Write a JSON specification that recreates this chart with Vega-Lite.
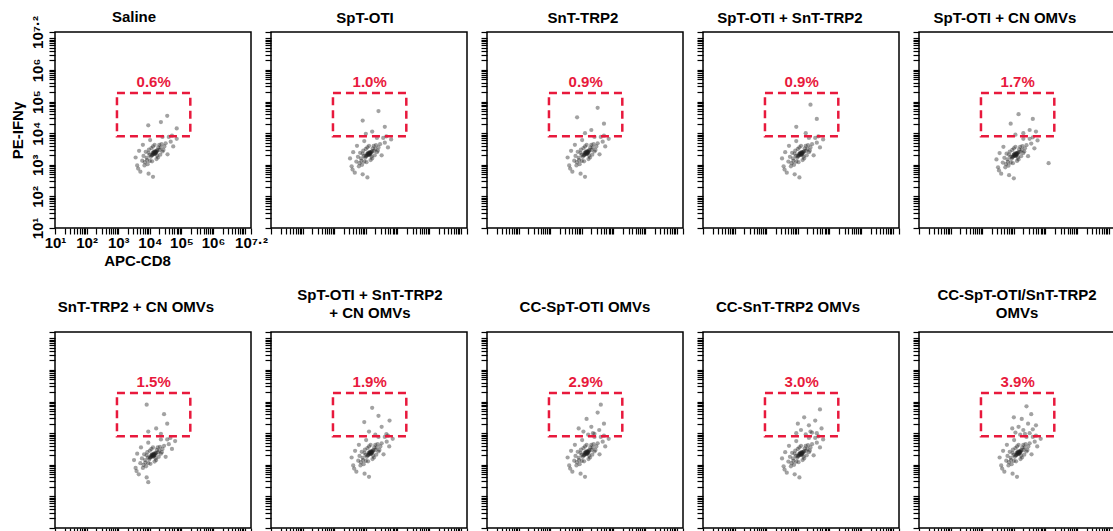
{
"$schema":"https://vega.github.io/schema/vega-lite/v6.json",
"padding":{"left":9,"top":8,"right":0,"bottom":0},
"background":"white",
"datasets":{
"gates":[
{"p":1,"x":2.96,"x2":5.28,"y":3.9,"y2":5.27,"xc":4.12,"pct":"0.6%"},
{"p":2,"x":2.96,"x2":5.28,"y":3.9,"y2":5.27,"xc":4.12,"pct":"1.0%"},
{"p":3,"x":2.96,"x2":5.28,"y":3.9,"y2":5.27,"xc":4.12,"pct":"0.9%"},
{"p":4,"x":2.96,"x2":5.28,"y":3.9,"y2":5.27,"xc":4.12,"pct":"0.9%"},
{"p":5,"x":2.96,"x2":5.28,"y":3.9,"y2":5.27,"xc":4.12,"pct":"1.7%"},
{"p":6,"x":2.96,"x2":5.28,"y":3.9,"y2":5.27,"xc":4.12,"pct":"1.5%"},
{"p":7,"x":2.96,"x2":5.28,"y":3.9,"y2":5.27,"xc":4.12,"pct":"1.9%"},
{"p":8,"x":2.96,"x2":5.28,"y":3.9,"y2":5.27,"xc":4.12,"pct":"2.9%"},
{"p":9,"x":2.96,"x2":5.28,"y":3.9,"y2":5.27,"xc":4.12,"pct":"3.0%"},
{"p":10,"x":2.96,"x2":5.28,"y":3.9,"y2":5.27,"xc":4.12,"pct":"3.9%"}
],
"cells":[
{"p":1,"x":4.15,"y":3.38},{"p":1,"x":4.18,"y":3.4},{"p":1,"x":4.12,"y":3.36},{"p":1,"x":4.2,"y":3.42},{"p":1,"x":4.1,"y":3.33},{"p":1,"x":4.16,"y":3.35},{"p":1,"x":4.13,"y":3.41},{"p":1,"x":4.22,"y":3.45},{"p":1,"x":4.08,"y":3.31},{"p":1,"x":4.17,"y":3.39},{"p":1,"x":4.19,"y":3.37},{"p":1,"x":4.11,"y":3.39},{"p":1,"x":4.24,"y":3.46},{"p":1,"x":4.06,"y":3.3},{"p":1,"x":4.14,"y":3.34},{"p":1,"x":4.21,"y":3.4},{"p":1,"x":4.09,"y":3.37},{"p":1,"x":4.16,"y":3.43},
{"p":1,"x":3.9,"y":3.22},{"p":1,"x":3.96,"y":3.38},{"p":1,"x":4.34,"y":3.54},{"p":1,"x":4.4,"y":3.42},{"p":1,"x":4.0,"y":3.12},{"p":1,"x":4.3,"y":3.63},{"p":1,"x":3.84,"y":3.08},{"p":1,"x":4.46,"y":3.58},{"p":1,"x":3.8,"y":3.28},{"p":1,"x":4.05,"y":3.53},{"p":1,"x":4.26,"y":3.23},{"p":1,"x":3.97,"y":3.48},{"p":1,"x":4.33,"y":3.32},{"p":1,"x":3.93,"y":3.02},{"p":1,"x":4.5,"y":3.68},{"p":1,"x":3.76,"y":3.13},{"p":1,"x":4.1,"y":3.58},{"p":1,"x":4.21,"y":3.18},{"p":1,"x":3.87,"y":3.41},{"p":1,"x":4.43,"y":3.47},{"p":1,"x":4.03,"y":3.25},{"p":1,"x":4.27,"y":3.55},{"p":1,"x":3.83,"y":2.98},{"p":1,"x":4.37,"y":3.65},{"p":1,"x":4.07,"y":3.11},{"p":1,"x":3.99,"y":3.31},{"p":1,"x":4.31,"y":3.47},{"p":1,"x":4.15,"y":3.63},{"p":1,"x":3.91,"y":3.15},{"p":1,"x":4.23,"y":3.29},
{"p":1,"x":3.6,"y":2.98},{"p":1,"x":3.66,"y":3.44},{"p":1,"x":4.66,"y":3.73},{"p":1,"x":4.74,"y":3.58},{"p":1,"x":3.7,"y":2.78},{"p":1,"x":4.6,"y":3.88},{"p":1,"x":3.55,"y":3.23},{"p":1,"x":4.85,"y":3.82},{"p":1,"x":3.96,"y":2.72},{"p":1,"x":4.4,"y":3.88},{"p":1,"x":3.78,"y":3.63},{"p":1,"x":4.56,"y":3.33},{"p":1,"x":3.63,"y":2.88},{"p":1,"x":4.1,"y":2.62},{"p":1,"x":4.7,"y":3.92},{"p":1,"x":4.01,"y":3.78},
{"p":1,"x":4.35,"y":4.35},{"p":1,"x":3.95,"y":4.25},{"p":1,"x":4.55,"y":4.55},{"p":1,"x":4.85,"y":4.15},

{"p":2,"x":4.1,"y":3.35},{"p":2,"x":4.13,"y":3.37},{"p":2,"x":4.07,"y":3.33},{"p":2,"x":4.15,"y":3.4},{"p":2,"x":4.05,"y":3.3},{"p":2,"x":4.12,"y":3.32},{"p":2,"x":4.08,"y":3.38},{"p":2,"x":4.18,"y":3.41},{"p":2,"x":4.02,"y":3.29},{"p":2,"x":4.11,"y":3.36},{"p":2,"x":4.14,"y":3.34},{"p":2,"x":4.06,"y":3.36},{"p":2,"x":4.2,"y":3.43},{"p":2,"x":4.0,"y":3.27},{"p":2,"x":4.09,"y":3.31},{"p":2,"x":4.16,"y":3.37},{"p":2,"x":4.04,"y":3.34},{"p":2,"x":4.12,"y":3.4},
{"p":2,"x":3.85,"y":3.2},{"p":2,"x":3.9,"y":3.35},{"p":2,"x":4.3,"y":3.5},{"p":2,"x":4.35,"y":3.4},{"p":2,"x":3.95,"y":3.1},{"p":2,"x":4.25,"y":3.6},{"p":2,"x":3.8,"y":3.05},{"p":2,"x":4.4,"y":3.55},{"p":2,"x":3.75,"y":3.25},{"p":2,"x":4.0,"y":3.5},{"p":2,"x":4.2,"y":3.2},{"p":2,"x":3.92,"y":3.45},{"p":2,"x":4.28,"y":3.3},{"p":2,"x":3.88,"y":3.0},{"p":2,"x":4.45,"y":3.65},{"p":2,"x":3.7,"y":3.1},{"p":2,"x":4.05,"y":3.55},{"p":2,"x":4.15,"y":3.15},{"p":2,"x":3.82,"y":3.38},{"p":2,"x":4.38,"y":3.45},{"p":2,"x":3.98,"y":3.22},{"p":2,"x":4.22,"y":3.52},{"p":2,"x":3.78,"y":2.95},{"p":2,"x":4.32,"y":3.62},{"p":2,"x":4.02,"y":3.08},{"p":2,"x":3.94,"y":3.28},{"p":2,"x":4.26,"y":3.44},{"p":2,"x":4.1,"y":3.6},{"p":2,"x":3.86,"y":3.12},{"p":2,"x":4.18,"y":3.26},
{"p":2,"x":3.55,"y":2.95},{"p":2,"x":3.6,"y":3.4},{"p":2,"x":4.6,"y":3.7},{"p":2,"x":4.7,"y":3.55},{"p":2,"x":3.65,"y":2.75},{"p":2,"x":4.55,"y":3.85},{"p":2,"x":3.5,"y":3.2},{"p":2,"x":4.8,"y":3.8},{"p":2,"x":3.9,"y":2.7},{"p":2,"x":4.35,"y":3.85},{"p":2,"x":3.72,"y":3.6},{"p":2,"x":4.5,"y":3.3},{"p":2,"x":3.58,"y":2.85},{"p":2,"x":4.05,"y":2.6},{"p":2,"x":4.65,"y":3.9},{"p":2,"x":3.95,"y":3.75},
{"p":2,"x":4.2,"y":4.05},{"p":2,"x":3.9,"y":4.4},{"p":2,"x":4.6,"y":4.2},{"p":2,"x":4.4,"y":4.7},{"p":2,"x":4.0,"y":3.98},

{"p":3,"x":4.15,"y":3.38},{"p":3,"x":4.18,"y":3.4},{"p":3,"x":4.12,"y":3.36},{"p":3,"x":4.2,"y":3.42},{"p":3,"x":4.1,"y":3.33},{"p":3,"x":4.16,"y":3.35},{"p":3,"x":4.13,"y":3.41},{"p":3,"x":4.22,"y":3.45},{"p":3,"x":4.08,"y":3.31},{"p":3,"x":4.17,"y":3.39},{"p":3,"x":4.19,"y":3.37},{"p":3,"x":4.11,"y":3.39},{"p":3,"x":4.24,"y":3.46},{"p":3,"x":4.06,"y":3.3},{"p":3,"x":4.14,"y":3.34},{"p":3,"x":4.21,"y":3.4},{"p":3,"x":4.09,"y":3.37},{"p":3,"x":4.16,"y":3.43},
{"p":3,"x":3.9,"y":3.22},{"p":3,"x":3.96,"y":3.38},{"p":3,"x":4.34,"y":3.54},{"p":3,"x":4.4,"y":3.42},{"p":3,"x":4.0,"y":3.12},{"p":3,"x":4.3,"y":3.63},{"p":3,"x":3.84,"y":3.08},{"p":3,"x":4.46,"y":3.58},{"p":3,"x":3.8,"y":3.28},{"p":3,"x":4.05,"y":3.53},{"p":3,"x":4.26,"y":3.23},{"p":3,"x":3.97,"y":3.48},{"p":3,"x":4.33,"y":3.32},{"p":3,"x":3.93,"y":3.02},{"p":3,"x":4.5,"y":3.68},{"p":3,"x":3.76,"y":3.13},{"p":3,"x":4.1,"y":3.58},{"p":3,"x":4.21,"y":3.18},{"p":3,"x":3.87,"y":3.41},{"p":3,"x":4.43,"y":3.47},{"p":3,"x":4.03,"y":3.25},{"p":3,"x":4.27,"y":3.55},{"p":3,"x":3.83,"y":2.98},{"p":3,"x":4.37,"y":3.65},{"p":3,"x":4.07,"y":3.11},{"p":3,"x":3.99,"y":3.31},{"p":3,"x":4.31,"y":3.47},{"p":3,"x":4.15,"y":3.63},{"p":3,"x":3.91,"y":3.15},{"p":3,"x":4.23,"y":3.29},
{"p":3,"x":3.6,"y":2.98},{"p":3,"x":3.66,"y":3.44},{"p":3,"x":4.66,"y":3.73},{"p":3,"x":4.74,"y":3.58},{"p":3,"x":3.7,"y":2.78},{"p":3,"x":4.6,"y":3.88},{"p":3,"x":3.55,"y":3.23},{"p":3,"x":4.85,"y":3.82},{"p":3,"x":3.96,"y":2.72},{"p":3,"x":4.4,"y":3.88},{"p":3,"x":3.78,"y":3.63},{"p":3,"x":4.56,"y":3.33},{"p":3,"x":3.63,"y":2.88},{"p":3,"x":4.1,"y":2.62},{"p":3,"x":4.7,"y":3.92},{"p":3,"x":4.01,"y":3.78},
{"p":3,"x":4.3,"y":4.1},{"p":3,"x":4.7,"y":4.3},{"p":3,"x":3.85,"y":4.5},{"p":3,"x":4.1,"y":4.0},{"p":3,"x":4.5,"y":4.8},

{"p":4,"x":4.1,"y":3.35},{"p":4,"x":4.13,"y":3.37},{"p":4,"x":4.07,"y":3.33},{"p":4,"x":4.15,"y":3.4},{"p":4,"x":4.05,"y":3.3},{"p":4,"x":4.12,"y":3.32},{"p":4,"x":4.08,"y":3.38},{"p":4,"x":4.18,"y":3.41},{"p":4,"x":4.02,"y":3.29},{"p":4,"x":4.11,"y":3.36},{"p":4,"x":4.14,"y":3.34},{"p":4,"x":4.06,"y":3.36},{"p":4,"x":4.2,"y":3.43},{"p":4,"x":4.0,"y":3.27},{"p":4,"x":4.09,"y":3.31},{"p":4,"x":4.16,"y":3.37},{"p":4,"x":4.04,"y":3.34},{"p":4,"x":4.12,"y":3.4},
{"p":4,"x":3.85,"y":3.2},{"p":4,"x":3.9,"y":3.35},{"p":4,"x":4.3,"y":3.5},{"p":4,"x":4.35,"y":3.4},{"p":4,"x":3.95,"y":3.1},{"p":4,"x":4.25,"y":3.6},{"p":4,"x":3.8,"y":3.05},{"p":4,"x":4.4,"y":3.55},{"p":4,"x":3.75,"y":3.25},{"p":4,"x":4.0,"y":3.5},{"p":4,"x":4.2,"y":3.2},{"p":4,"x":3.92,"y":3.45},{"p":4,"x":4.28,"y":3.3},{"p":4,"x":3.88,"y":3.0},{"p":4,"x":4.45,"y":3.65},{"p":4,"x":3.7,"y":3.1},{"p":4,"x":4.05,"y":3.55},{"p":4,"x":4.15,"y":3.15},{"p":4,"x":3.82,"y":3.38},{"p":4,"x":4.38,"y":3.45},{"p":4,"x":3.98,"y":3.22},{"p":4,"x":4.22,"y":3.52},{"p":4,"x":3.78,"y":2.95},{"p":4,"x":4.32,"y":3.62},{"p":4,"x":4.02,"y":3.08},{"p":4,"x":3.94,"y":3.28},{"p":4,"x":4.26,"y":3.44},{"p":4,"x":4.1,"y":3.6},{"p":4,"x":3.86,"y":3.12},{"p":4,"x":4.18,"y":3.26},
{"p":4,"x":3.55,"y":2.95},{"p":4,"x":3.6,"y":3.4},{"p":4,"x":4.6,"y":3.7},{"p":4,"x":4.7,"y":3.55},{"p":4,"x":3.65,"y":2.75},{"p":4,"x":4.55,"y":3.85},{"p":4,"x":3.5,"y":3.2},{"p":4,"x":4.8,"y":3.8},{"p":4,"x":3.9,"y":2.7},{"p":4,"x":4.35,"y":3.85},{"p":4,"x":3.72,"y":3.6},{"p":4,"x":4.5,"y":3.3},{"p":4,"x":3.58,"y":2.85},{"p":4,"x":4.05,"y":2.6},{"p":4,"x":4.65,"y":3.9},{"p":4,"x":3.95,"y":3.75},
{"p":4,"x":4.25,"y":4.0},{"p":4,"x":4.6,"y":4.45},{"p":4,"x":3.95,"y":4.2},{"p":4,"x":4.4,"y":4.9},

{"p":5,"x":4.05,"y":3.32},{"p":5,"x":4.08,"y":3.34},{"p":5,"x":4.02,"y":3.3},{"p":5,"x":4.1,"y":3.37},{"p":5,"x":4.0,"y":3.27},{"p":5,"x":4.07,"y":3.29},{"p":5,"x":4.03,"y":3.35},{"p":5,"x":4.13,"y":3.38},{"p":5,"x":3.97,"y":3.26},{"p":5,"x":4.06,"y":3.33},{"p":5,"x":4.09,"y":3.31},{"p":5,"x":4.01,"y":3.33},{"p":5,"x":4.15,"y":3.4},{"p":5,"x":3.95,"y":3.24},{"p":5,"x":4.04,"y":3.28},{"p":5,"x":4.11,"y":3.34},{"p":5,"x":3.99,"y":3.31},{"p":5,"x":4.07,"y":3.37},
{"p":5,"x":3.8,"y":3.17},{"p":5,"x":3.85,"y":3.32},{"p":5,"x":4.25,"y":3.47},{"p":5,"x":4.3,"y":3.37},{"p":5,"x":3.9,"y":3.07},{"p":5,"x":4.2,"y":3.57},{"p":5,"x":3.75,"y":3.02},{"p":5,"x":4.35,"y":3.52},{"p":5,"x":3.7,"y":3.22},{"p":5,"x":3.95,"y":3.47},{"p":5,"x":4.15,"y":3.17},{"p":5,"x":3.87,"y":3.42},{"p":5,"x":4.23,"y":3.27},{"p":5,"x":3.83,"y":2.97},{"p":5,"x":4.4,"y":3.62},{"p":5,"x":3.65,"y":3.07},{"p":5,"x":4.0,"y":3.52},{"p":5,"x":4.1,"y":3.12},{"p":5,"x":3.77,"y":3.35},{"p":5,"x":4.33,"y":3.42},{"p":5,"x":3.93,"y":3.19},{"p":5,"x":4.17,"y":3.49},{"p":5,"x":3.73,"y":2.92},{"p":5,"x":4.27,"y":3.59},{"p":5,"x":3.97,"y":3.05},{"p":5,"x":3.89,"y":3.25},{"p":5,"x":4.21,"y":3.41},{"p":5,"x":4.05,"y":3.57},{"p":5,"x":3.81,"y":3.09},{"p":5,"x":4.13,"y":3.23},
{"p":5,"x":3.5,"y":2.92},{"p":5,"x":3.55,"y":3.37},{"p":5,"x":4.55,"y":3.67},{"p":5,"x":4.65,"y":3.52},{"p":5,"x":3.6,"y":2.72},{"p":5,"x":4.5,"y":3.82},{"p":5,"x":3.45,"y":3.17},{"p":5,"x":4.75,"y":3.77},{"p":5,"x":3.85,"y":2.67},{"p":5,"x":4.3,"y":3.82},{"p":5,"x":3.67,"y":3.57},{"p":5,"x":4.45,"y":3.27},{"p":5,"x":3.53,"y":2.82},{"p":5,"x":4.0,"y":2.57},{"p":5,"x":4.6,"y":3.87},{"p":5,"x":5.1,"y":3.05},
{"p":5,"x":4.3,"y":4.0},{"p":5,"x":4.5,"y":4.1},{"p":5,"x":3.9,"y":4.3},{"p":5,"x":4.15,"y":4.6},{"p":5,"x":4.6,"y":4.45},{"p":5,"x":4.05,"y":3.95},{"p":5,"x":4.7,"y":4.05},

{"p":6,"x":4.1,"y":3.3},{"p":6,"x":4.13,"y":3.32},{"p":6,"x":4.07,"y":3.28},{"p":6,"x":4.15,"y":3.35},{"p":6,"x":4.05,"y":3.25},{"p":6,"x":4.12,"y":3.27},{"p":6,"x":4.08,"y":3.33},{"p":6,"x":4.18,"y":3.36},{"p":6,"x":4.02,"y":3.24},{"p":6,"x":4.11,"y":3.31},{"p":6,"x":4.14,"y":3.29},{"p":6,"x":4.06,"y":3.31},{"p":6,"x":4.2,"y":3.38},{"p":6,"x":4.0,"y":3.22},{"p":6,"x":4.09,"y":3.26},{"p":6,"x":4.16,"y":3.32},{"p":6,"x":4.04,"y":3.29},{"p":6,"x":4.12,"y":3.35},
{"p":6,"x":3.85,"y":3.15},{"p":6,"x":3.9,"y":3.3},{"p":6,"x":4.3,"y":3.45},{"p":6,"x":4.35,"y":3.35},{"p":6,"x":3.95,"y":3.05},{"p":6,"x":4.25,"y":3.55},{"p":6,"x":3.8,"y":3.0},{"p":6,"x":4.4,"y":3.5},{"p":6,"x":3.75,"y":3.2},{"p":6,"x":4.0,"y":3.45},{"p":6,"x":4.2,"y":3.15},{"p":6,"x":3.92,"y":3.4},{"p":6,"x":4.28,"y":3.25},{"p":6,"x":3.88,"y":2.95},{"p":6,"x":4.45,"y":3.6},{"p":6,"x":3.7,"y":3.05},{"p":6,"x":4.05,"y":3.5},{"p":6,"x":4.15,"y":3.1},{"p":6,"x":3.82,"y":3.33},{"p":6,"x":4.38,"y":3.4},{"p":6,"x":3.98,"y":3.17},{"p":6,"x":4.22,"y":3.47},{"p":6,"x":3.78,"y":2.9},{"p":6,"x":4.32,"y":3.57},{"p":6,"x":4.02,"y":3.03},{"p":6,"x":3.94,"y":3.23},{"p":6,"x":4.26,"y":3.39},{"p":6,"x":4.1,"y":3.55},{"p":6,"x":3.86,"y":3.07},{"p":6,"x":4.18,"y":3.21},
{"p":6,"x":3.55,"y":2.9},{"p":6,"x":3.6,"y":3.35},{"p":6,"x":4.6,"y":3.65},{"p":6,"x":4.7,"y":3.5},{"p":6,"x":3.65,"y":2.7},{"p":6,"x":4.55,"y":3.8},{"p":6,"x":3.5,"y":3.15},{"p":6,"x":4.8,"y":3.75},{"p":6,"x":3.9,"y":2.6},{"p":6,"x":4.35,"y":3.8},{"p":6,"x":3.72,"y":3.55},{"p":6,"x":4.5,"y":3.25},{"p":6,"x":3.58,"y":2.8},{"p":6,"x":3.95,"y":2.45},{"p":6,"x":4.65,"y":3.85},{"p":6,"x":3.95,"y":3.7},
{"p":6,"x":4.35,"y":3.98},{"p":6,"x":4.2,"y":4.15},{"p":6,"x":4.55,"y":4.3},{"p":6,"x":3.95,"y":4.05},{"p":6,"x":4.45,"y":4.6},{"p":6,"x":3.9,"y":4.9},

{"p":7,"x":4.15,"y":3.38},{"p":7,"x":4.18,"y":3.4},{"p":7,"x":4.12,"y":3.36},{"p":7,"x":4.2,"y":3.42},{"p":7,"x":4.1,"y":3.33},{"p":7,"x":4.16,"y":3.35},{"p":7,"x":4.13,"y":3.41},{"p":7,"x":4.22,"y":3.45},{"p":7,"x":4.08,"y":3.31},{"p":7,"x":4.17,"y":3.39},{"p":7,"x":4.19,"y":3.37},{"p":7,"x":4.11,"y":3.39},{"p":7,"x":4.24,"y":3.46},{"p":7,"x":4.06,"y":3.3},{"p":7,"x":4.14,"y":3.34},{"p":7,"x":4.21,"y":3.4},{"p":7,"x":4.09,"y":3.37},{"p":7,"x":4.16,"y":3.43},
{"p":7,"x":3.9,"y":3.22},{"p":7,"x":3.96,"y":3.38},{"p":7,"x":4.34,"y":3.54},{"p":7,"x":4.4,"y":3.42},{"p":7,"x":4.0,"y":3.12},{"p":7,"x":4.3,"y":3.63},{"p":7,"x":3.84,"y":3.08},{"p":7,"x":4.46,"y":3.58},{"p":7,"x":3.8,"y":3.28},{"p":7,"x":4.05,"y":3.53},{"p":7,"x":4.26,"y":3.23},{"p":7,"x":3.97,"y":3.48},{"p":7,"x":4.33,"y":3.32},{"p":7,"x":3.93,"y":3.02},{"p":7,"x":4.5,"y":3.68},{"p":7,"x":3.76,"y":3.13},{"p":7,"x":4.1,"y":3.58},{"p":7,"x":4.21,"y":3.18},{"p":7,"x":3.87,"y":3.41},{"p":7,"x":4.43,"y":3.47},{"p":7,"x":4.03,"y":3.25},{"p":7,"x":4.27,"y":3.55},{"p":7,"x":3.83,"y":2.98},{"p":7,"x":4.37,"y":3.65},{"p":7,"x":4.07,"y":3.11},{"p":7,"x":3.99,"y":3.31},{"p":7,"x":4.31,"y":3.47},{"p":7,"x":4.15,"y":3.63},{"p":7,"x":3.91,"y":3.15},{"p":7,"x":4.23,"y":3.29},
{"p":7,"x":3.6,"y":2.98},{"p":7,"x":3.66,"y":3.44},{"p":7,"x":4.66,"y":3.73},{"p":7,"x":4.74,"y":3.58},{"p":7,"x":3.7,"y":2.78},{"p":7,"x":4.6,"y":3.88},{"p":7,"x":3.55,"y":3.23},{"p":7,"x":4.85,"y":3.82},{"p":7,"x":3.96,"y":2.72},{"p":7,"x":4.4,"y":3.88},{"p":7,"x":3.78,"y":3.63},{"p":7,"x":4.56,"y":3.33},{"p":7,"x":3.63,"y":2.88},{"p":7,"x":4.1,"y":2.62},{"p":7,"x":4.7,"y":3.92},{"p":7,"x":4.01,"y":3.78},
{"p":7,"x":4.3,"y":3.95},{"p":7,"x":4.1,"y":4.05},{"p":7,"x":4.5,"y":4.2},{"p":7,"x":4.65,"y":3.97},{"p":7,"x":3.95,"y":4.35},{"p":7,"x":4.4,"y":4.55},{"p":7,"x":4.2,"y":4.8},{"p":7,"x":4.75,"y":4.4},

{"p":8,"x":4.15,"y":3.38},{"p":8,"x":4.18,"y":3.4},{"p":8,"x":4.12,"y":3.36},{"p":8,"x":4.2,"y":3.42},{"p":8,"x":4.1,"y":3.33},{"p":8,"x":4.16,"y":3.35},{"p":8,"x":4.13,"y":3.41},{"p":8,"x":4.22,"y":3.45},{"p":8,"x":4.08,"y":3.31},{"p":8,"x":4.17,"y":3.39},{"p":8,"x":4.19,"y":3.37},{"p":8,"x":4.11,"y":3.39},{"p":8,"x":4.24,"y":3.46},{"p":8,"x":4.06,"y":3.3},{"p":8,"x":4.14,"y":3.34},{"p":8,"x":4.21,"y":3.4},{"p":8,"x":4.09,"y":3.37},{"p":8,"x":4.16,"y":3.43},
{"p":8,"x":3.9,"y":3.22},{"p":8,"x":3.96,"y":3.38},{"p":8,"x":4.34,"y":3.54},{"p":8,"x":4.4,"y":3.42},{"p":8,"x":4.0,"y":3.12},{"p":8,"x":4.3,"y":3.63},{"p":8,"x":3.84,"y":3.08},{"p":8,"x":4.46,"y":3.58},{"p":8,"x":3.8,"y":3.28},{"p":8,"x":4.05,"y":3.53},{"p":8,"x":4.26,"y":3.23},{"p":8,"x":3.97,"y":3.48},{"p":8,"x":4.33,"y":3.32},{"p":8,"x":3.93,"y":3.02},{"p":8,"x":4.5,"y":3.68},{"p":8,"x":3.76,"y":3.13},{"p":8,"x":4.1,"y":3.58},{"p":8,"x":4.21,"y":3.18},{"p":8,"x":3.87,"y":3.41},{"p":8,"x":4.43,"y":3.47},{"p":8,"x":4.03,"y":3.25},{"p":8,"x":4.27,"y":3.55},{"p":8,"x":3.83,"y":2.98},{"p":8,"x":4.37,"y":3.65},{"p":8,"x":4.07,"y":3.11},{"p":8,"x":3.99,"y":3.31},{"p":8,"x":4.31,"y":3.47},{"p":8,"x":4.15,"y":3.63},{"p":8,"x":3.91,"y":3.15},{"p":8,"x":4.23,"y":3.29},
{"p":8,"x":3.6,"y":2.98},{"p":8,"x":3.66,"y":3.44},{"p":8,"x":4.66,"y":3.73},{"p":8,"x":4.74,"y":3.58},{"p":8,"x":3.7,"y":2.78},{"p":8,"x":4.6,"y":3.88},{"p":8,"x":3.55,"y":3.23},{"p":8,"x":4.85,"y":3.82},{"p":8,"x":3.96,"y":2.72},{"p":8,"x":4.4,"y":3.88},{"p":8,"x":3.78,"y":3.63},{"p":8,"x":4.56,"y":3.33},{"p":8,"x":3.63,"y":2.88},{"p":8,"x":4.1,"y":2.62},{"p":8,"x":4.7,"y":3.92},{"p":8,"x":4.01,"y":3.78},
{"p":8,"x":4.2,"y":3.95},{"p":8,"x":4.4,"y":3.98},{"p":8,"x":4.05,"y":4.05},{"p":8,"x":4.55,"y":4.1},{"p":8,"x":4.3,"y":4.2},{"p":8,"x":3.9,"y":4.15},{"p":8,"x":4.7,"y":4.3},{"p":8,"x":4.15,"y":4.45},{"p":8,"x":4.5,"y":4.65},{"p":8,"x":4.35,"y":4.0},{"p":8,"x":4.6,"y":4.9},

{"p":9,"x":4.1,"y":3.35},{"p":9,"x":4.13,"y":3.37},{"p":9,"x":4.07,"y":3.33},{"p":9,"x":4.15,"y":3.4},{"p":9,"x":4.05,"y":3.3},{"p":9,"x":4.12,"y":3.32},{"p":9,"x":4.08,"y":3.38},{"p":9,"x":4.18,"y":3.41},{"p":9,"x":4.02,"y":3.29},{"p":9,"x":4.11,"y":3.36},{"p":9,"x":4.14,"y":3.34},{"p":9,"x":4.06,"y":3.36},{"p":9,"x":4.2,"y":3.43},{"p":9,"x":4.0,"y":3.27},{"p":9,"x":4.09,"y":3.31},{"p":9,"x":4.16,"y":3.37},{"p":9,"x":4.04,"y":3.34},{"p":9,"x":4.12,"y":3.4},
{"p":9,"x":3.85,"y":3.2},{"p":9,"x":3.9,"y":3.35},{"p":9,"x":4.3,"y":3.5},{"p":9,"x":4.35,"y":3.4},{"p":9,"x":3.95,"y":3.1},{"p":9,"x":4.25,"y":3.6},{"p":9,"x":3.8,"y":3.05},{"p":9,"x":4.4,"y":3.55},{"p":9,"x":3.75,"y":3.25},{"p":9,"x":4.0,"y":3.5},{"p":9,"x":4.2,"y":3.2},{"p":9,"x":3.92,"y":3.45},{"p":9,"x":4.28,"y":3.3},{"p":9,"x":3.88,"y":3.0},{"p":9,"x":4.45,"y":3.65},{"p":9,"x":3.7,"y":3.1},{"p":9,"x":4.05,"y":3.55},{"p":9,"x":4.15,"y":3.15},{"p":9,"x":3.82,"y":3.38},{"p":9,"x":4.38,"y":3.45},{"p":9,"x":3.98,"y":3.22},{"p":9,"x":4.22,"y":3.52},{"p":9,"x":3.78,"y":2.95},{"p":9,"x":4.32,"y":3.62},{"p":9,"x":4.02,"y":3.08},{"p":9,"x":3.94,"y":3.28},{"p":9,"x":4.26,"y":3.44},{"p":9,"x":4.1,"y":3.6},{"p":9,"x":3.86,"y":3.12},{"p":9,"x":4.18,"y":3.26},
{"p":9,"x":3.55,"y":2.95},{"p":9,"x":3.6,"y":3.4},{"p":9,"x":4.6,"y":3.7},{"p":9,"x":4.7,"y":3.55},{"p":9,"x":3.65,"y":2.75},{"p":9,"x":4.55,"y":3.85},{"p":9,"x":3.5,"y":3.2},{"p":9,"x":4.8,"y":3.8},{"p":9,"x":3.9,"y":2.7},{"p":9,"x":4.35,"y":3.85},{"p":9,"x":3.72,"y":3.6},{"p":9,"x":4.5,"y":3.3},{"p":9,"x":3.58,"y":2.85},{"p":9,"x":4.05,"y":2.6},{"p":9,"x":4.65,"y":3.9},{"p":9,"x":3.95,"y":3.75},
{"p":9,"x":4.25,"y":3.96},{"p":9,"x":4.45,"y":4.02},{"p":9,"x":4.1,"y":4.1},{"p":9,"x":4.6,"y":4.0},{"p":9,"x":4.35,"y":4.25},{"p":9,"x":3.95,"y":4.0},{"p":9,"x":4.75,"y":4.15},{"p":9,"x":4.2,"y":4.5},{"p":9,"x":4.55,"y":4.4},{"p":9,"x":4.0,"y":4.3},{"p":9,"x":4.7,"y":4.75},{"p":9,"x":4.4,"y":4.05},

{"p":10,"x":4.15,"y":3.38},{"p":10,"x":4.18,"y":3.4},{"p":10,"x":4.12,"y":3.36},{"p":10,"x":4.2,"y":3.42},{"p":10,"x":4.1,"y":3.33},{"p":10,"x":4.16,"y":3.35},{"p":10,"x":4.13,"y":3.41},{"p":10,"x":4.22,"y":3.45},{"p":10,"x":4.08,"y":3.31},{"p":10,"x":4.17,"y":3.39},{"p":10,"x":4.19,"y":3.37},{"p":10,"x":4.11,"y":3.39},{"p":10,"x":4.24,"y":3.46},{"p":10,"x":4.06,"y":3.3},{"p":10,"x":4.14,"y":3.34},{"p":10,"x":4.21,"y":3.4},{"p":10,"x":4.09,"y":3.37},{"p":10,"x":4.16,"y":3.43},
{"p":10,"x":3.9,"y":3.22},{"p":10,"x":3.96,"y":3.38},{"p":10,"x":4.34,"y":3.54},{"p":10,"x":4.4,"y":3.42},{"p":10,"x":4.0,"y":3.12},{"p":10,"x":4.3,"y":3.63},{"p":10,"x":3.84,"y":3.08},{"p":10,"x":4.46,"y":3.58},{"p":10,"x":3.8,"y":3.28},{"p":10,"x":4.05,"y":3.53},{"p":10,"x":4.26,"y":3.23},{"p":10,"x":3.97,"y":3.48},{"p":10,"x":4.33,"y":3.32},{"p":10,"x":3.93,"y":3.02},{"p":10,"x":4.5,"y":3.68},{"p":10,"x":3.76,"y":3.13},{"p":10,"x":4.1,"y":3.58},{"p":10,"x":4.21,"y":3.18},{"p":10,"x":3.87,"y":3.41},{"p":10,"x":4.43,"y":3.47},{"p":10,"x":4.03,"y":3.25},{"p":10,"x":4.27,"y":3.55},{"p":10,"x":3.83,"y":2.98},{"p":10,"x":4.37,"y":3.65},{"p":10,"x":4.07,"y":3.11},{"p":10,"x":3.99,"y":3.31},{"p":10,"x":4.31,"y":3.47},{"p":10,"x":4.15,"y":3.63},{"p":10,"x":3.91,"y":3.15},{"p":10,"x":4.23,"y":3.29},
{"p":10,"x":3.6,"y":2.98},{"p":10,"x":3.66,"y":3.44},{"p":10,"x":4.66,"y":3.73},{"p":10,"x":4.74,"y":3.58},{"p":10,"x":3.7,"y":2.78},{"p":10,"x":4.6,"y":3.88},{"p":10,"x":3.55,"y":3.23},{"p":10,"x":4.85,"y":3.82},{"p":10,"x":3.96,"y":2.72},{"p":10,"x":4.4,"y":3.88},{"p":10,"x":3.78,"y":3.63},{"p":10,"x":4.56,"y":3.33},{"p":10,"x":3.63,"y":2.88},{"p":10,"x":4.1,"y":2.62},{"p":10,"x":4.7,"y":3.92},{"p":10,"x":4.01,"y":3.78},
{"p":10,"x":4.2,"y":3.95},{"p":10,"x":4.35,"y":3.98},{"p":10,"x":4.5,"y":4.0},{"p":10,"x":4.05,"y":4.02},{"p":10,"x":4.3,"y":4.1},{"p":10,"x":4.6,"y":4.12},{"p":10,"x":4.15,"y":4.2},{"p":10,"x":3.95,"y":4.15},{"p":10,"x":4.45,"y":4.3},{"p":10,"x":4.7,"y":4.25},{"p":10,"x":4.25,"y":4.45},{"p":10,"x":4.55,"y":4.6},{"p":10,"x":4.0,"y":4.5},{"p":10,"x":4.4,"y":4.85}
]},
"columns":5,
"spacing":{"row":104,"column":20},
"bounds":"flush",
"concat":[
{"title":{"text":"Saline","dx":-19,"offset":-9},"width":196,"height":196,"layer":[
{"data":{"name":"cells"},"transform":[{"filter":"datum.p==1"}],"mark":"circle","encoding":{
"x":{"field":"x","type":"quantitative","scale":{"domain":[1,7.2],"nice":false,"zero":false},"axis":{"values":[1,1.301,1.477,1.602,1.699,1.778,1.845,1.903,1.954,2,2.301,2.477,2.602,2.699,2.778,2.845,2.903,2.954,3,3.301,3.477,3.602,3.699,3.778,3.845,3.903,3.954,4,4.301,4.477,4.602,4.699,4.778,4.845,4.903,4.954,5,5.301,5.477,5.602,5.699,5.778,5.845,5.903,5.954,6,6.301,6.477,6.602,6.699,6.778,6.845,6.903,6.954,7,7.2],"tickCount":200,"title":"APC-CD8","labels":true,"labelExpr":"datum.value==7.2?'10⁷·²':(datum.value%1==0&&datum.value<7?'10'+['','¹','²','³','⁴','⁵','⁶'][datum.value]:'')","labelFlush":false,"labelOverlap":false,"labelPadding":1,"titlePadding":3,"titleX":82}},
"y":{"field":"y","type":"quantitative","scale":{"domain":[1,7.2],"nice":false,"zero":false},"axis":{"values":[1,1.301,1.477,1.602,1.699,1.778,1.845,1.903,1.954,2,2.301,2.477,2.602,2.699,2.778,2.845,2.903,2.954,3,3.301,3.477,3.602,3.699,3.778,3.845,3.903,3.954,4,4.301,4.477,4.602,4.699,4.778,4.845,4.903,4.954,5,5.301,5.477,5.602,5.699,5.778,5.845,5.903,5.954,6,6.301,6.477,6.602,6.699,6.778,6.845,6.903,6.954,7,7.2],"tickCount":200,"title":"PE-IFNγ","labels":true,"labelExpr":"datum.value==7.2?'10⁷·²':(datum.value%1==0&&datum.value<7?'10'+['','¹','²','³','⁴','⁵','⁶'][datum.value]:'')","labelFlush":false,"labelOverlap":false,"labelAngle":270,"labelAlign":"center","labelBaseline":"bottom","labelPadding":4,"titlePadding":5}}}},
{"data":{"name":"gates"},"transform":[{"filter":"datum.p==1"}],"mark":"rect","encoding":{"x":{"field":"x","type":"quantitative"},"x2":{"field":"x2"},"y":{"field":"y","type":"quantitative"},"y2":{"field":"y2"}}},
{"data":{"name":"gates"},"transform":[{"filter":"datum.p==1"}],"mark":"text","encoding":{"x":{"field":"xc","type":"quantitative"},"y":{"field":"y2","type":"quantitative"},"text":{"field":"pct"}}}]},

{"title":{"text":"SpT-OTI","dx":-4,"offset":5},"width":196,"height":196,"layer":[
{"data":{"name":"cells"},"transform":[{"filter":"datum.p==2"}],"mark":"circle","encoding":{
"x":{"field":"x","type":"quantitative","scale":{"domain":[1,7.2],"nice":false,"zero":false},"axis":{"values":[1,1.301,1.477,1.602,1.699,1.778,1.845,1.903,1.954,2,2.301,2.477,2.602,2.699,2.778,2.845,2.903,2.954,3,3.301,3.477,3.602,3.699,3.778,3.845,3.903,3.954,4,4.301,4.477,4.602,4.699,4.778,4.845,4.903,4.954,5,5.301,5.477,5.602,5.699,5.778,5.845,5.903,5.954,6,6.301,6.477,6.602,6.699,6.778,6.845,6.903,6.954,7,7.2],"tickCount":200,"title":null}},
"y":{"field":"y","type":"quantitative","scale":{"domain":[1,7.2],"nice":false,"zero":false},"axis":{"values":[1,1.301,1.477,1.602,1.699,1.778,1.845,1.903,1.954,2,2.301,2.477,2.602,2.699,2.778,2.845,2.903,2.954,3,3.301,3.477,3.602,3.699,3.778,3.845,3.903,3.954,4,4.301,4.477,4.602,4.699,4.778,4.845,4.903,4.954,5,5.301,5.477,5.602,5.699,5.778,5.845,5.903,5.954,6,6.301,6.477,6.602,6.699,6.778,6.845,6.903,6.954,7,7.2],"tickCount":200,"title":null}}}},
{"data":{"name":"gates"},"transform":[{"filter":"datum.p==2"}],"mark":"rect","encoding":{"x":{"field":"x","type":"quantitative"},"x2":{"field":"x2"},"y":{"field":"y","type":"quantitative"},"y2":{"field":"y2"}}},
{"data":{"name":"gates"},"transform":[{"filter":"datum.p==2"}],"mark":"text","encoding":{"x":{"field":"xc","type":"quantitative"},"y":{"field":"y2","type":"quantitative"},"text":{"field":"pct"}}}]},

{"title":{"text":"SnT-TRP2","dx":-2,"offset":5},"width":196,"height":196,"layer":[
{"data":{"name":"cells"},"transform":[{"filter":"datum.p==3"}],"mark":"circle","encoding":{
"x":{"field":"x","type":"quantitative","scale":{"domain":[1,7.2],"nice":false,"zero":false},"axis":{"values":[1,1.301,1.477,1.602,1.699,1.778,1.845,1.903,1.954,2,2.301,2.477,2.602,2.699,2.778,2.845,2.903,2.954,3,3.301,3.477,3.602,3.699,3.778,3.845,3.903,3.954,4,4.301,4.477,4.602,4.699,4.778,4.845,4.903,4.954,5,5.301,5.477,5.602,5.699,5.778,5.845,5.903,5.954,6,6.301,6.477,6.602,6.699,6.778,6.845,6.903,6.954,7,7.2],"tickCount":200,"title":null}},
"y":{"field":"y","type":"quantitative","scale":{"domain":[1,7.2],"nice":false,"zero":false},"axis":{"values":[1,1.301,1.477,1.602,1.699,1.778,1.845,1.903,1.954,2,2.301,2.477,2.602,2.699,2.778,2.845,2.903,2.954,3,3.301,3.477,3.602,3.699,3.778,3.845,3.903,3.954,4,4.301,4.477,4.602,4.699,4.778,4.845,4.903,4.954,5,5.301,5.477,5.602,5.699,5.778,5.845,5.903,5.954,6,6.301,6.477,6.602,6.699,6.778,6.845,6.903,6.954,7,7.2],"tickCount":200,"title":null}}}},
{"data":{"name":"gates"},"transform":[{"filter":"datum.p==3"}],"mark":"rect","encoding":{"x":{"field":"x","type":"quantitative"},"x2":{"field":"x2"},"y":{"field":"y","type":"quantitative"},"y2":{"field":"y2"}}},
{"data":{"name":"gates"},"transform":[{"filter":"datum.p==3"}],"mark":"text","encoding":{"x":{"field":"xc","type":"quantitative"},"y":{"field":"y2","type":"quantitative"},"text":{"field":"pct"}}}]},

{"title":{"text":"SpT-OTI + SnT-TRP2","dx":-11,"offset":5},"width":196,"height":196,"layer":[
{"data":{"name":"cells"},"transform":[{"filter":"datum.p==4"}],"mark":"circle","encoding":{
"x":{"field":"x","type":"quantitative","scale":{"domain":[1,7.2],"nice":false,"zero":false},"axis":{"values":[1,1.301,1.477,1.602,1.699,1.778,1.845,1.903,1.954,2,2.301,2.477,2.602,2.699,2.778,2.845,2.903,2.954,3,3.301,3.477,3.602,3.699,3.778,3.845,3.903,3.954,4,4.301,4.477,4.602,4.699,4.778,4.845,4.903,4.954,5,5.301,5.477,5.602,5.699,5.778,5.845,5.903,5.954,6,6.301,6.477,6.602,6.699,6.778,6.845,6.903,6.954,7,7.2],"tickCount":200,"title":null}},
"y":{"field":"y","type":"quantitative","scale":{"domain":[1,7.2],"nice":false,"zero":false},"axis":{"values":[1,1.301,1.477,1.602,1.699,1.778,1.845,1.903,1.954,2,2.301,2.477,2.602,2.699,2.778,2.845,2.903,2.954,3,3.301,3.477,3.602,3.699,3.778,3.845,3.903,3.954,4,4.301,4.477,4.602,4.699,4.778,4.845,4.903,4.954,5,5.301,5.477,5.602,5.699,5.778,5.845,5.903,5.954,6,6.301,6.477,6.602,6.699,6.778,6.845,6.903,6.954,7,7.2],"tickCount":200,"title":null}}}},
{"data":{"name":"gates"},"transform":[{"filter":"datum.p==4"}],"mark":"rect","encoding":{"x":{"field":"x","type":"quantitative"},"x2":{"field":"x2"},"y":{"field":"y","type":"quantitative"},"y2":{"field":"y2"}}},
{"data":{"name":"gates"},"transform":[{"filter":"datum.p==4"}],"mark":"text","encoding":{"x":{"field":"xc","type":"quantitative"},"y":{"field":"y2","type":"quantitative"},"text":{"field":"pct"}}}]},

{"title":{"text":"SpT-OTI + CN OMVs","dx":-12,"offset":5},"width":196,"height":196,"layer":[
{"data":{"name":"cells"},"transform":[{"filter":"datum.p==5"}],"mark":"circle","encoding":{
"x":{"field":"x","type":"quantitative","scale":{"domain":[1,7.2],"nice":false,"zero":false},"axis":{"values":[1,1.301,1.477,1.602,1.699,1.778,1.845,1.903,1.954,2,2.301,2.477,2.602,2.699,2.778,2.845,2.903,2.954,3,3.301,3.477,3.602,3.699,3.778,3.845,3.903,3.954,4,4.301,4.477,4.602,4.699,4.778,4.845,4.903,4.954,5,5.301,5.477,5.602,5.699,5.778,5.845,5.903,5.954,6,6.301,6.477,6.602,6.699,6.778,6.845,6.903,6.954,7,7.2],"tickCount":200,"title":null}},
"y":{"field":"y","type":"quantitative","scale":{"domain":[1,7.2],"nice":false,"zero":false},"axis":{"values":[1,1.301,1.477,1.602,1.699,1.778,1.845,1.903,1.954,2,2.301,2.477,2.602,2.699,2.778,2.845,2.903,2.954,3,3.301,3.477,3.602,3.699,3.778,3.845,3.903,3.954,4,4.301,4.477,4.602,4.699,4.778,4.845,4.903,4.954,5,5.301,5.477,5.602,5.699,5.778,5.845,5.903,5.954,6,6.301,6.477,6.602,6.699,6.778,6.845,6.903,6.954,7,7.2],"tickCount":200,"title":null}}}},
{"data":{"name":"gates"},"transform":[{"filter":"datum.p==5"}],"mark":"rect","encoding":{"x":{"field":"x","type":"quantitative"},"x2":{"field":"x2"},"y":{"field":"y","type":"quantitative"},"y2":{"field":"y2"}}},
{"data":{"name":"gates"},"transform":[{"filter":"datum.p==5"}],"mark":"text","encoding":{"x":{"field":"xc","type":"quantitative"},"y":{"field":"y2","type":"quantitative"},"text":{"field":"pct"}}}]},

{"title":{"text":"SnT-TRP2 + CN OMVs","dx":-17,"offset":16},"width":196,"height":196,"layer":[
{"data":{"name":"cells"},"transform":[{"filter":"datum.p==6"}],"mark":"circle","encoding":{
"x":{"field":"x","type":"quantitative","scale":{"domain":[1,7.2],"nice":false,"zero":false},"axis":{"values":[1,1.301,1.477,1.602,1.699,1.778,1.845,1.903,1.954,2,2.301,2.477,2.602,2.699,2.778,2.845,2.903,2.954,3,3.301,3.477,3.602,3.699,3.778,3.845,3.903,3.954,4,4.301,4.477,4.602,4.699,4.778,4.845,4.903,4.954,5,5.301,5.477,5.602,5.699,5.778,5.845,5.903,5.954,6,6.301,6.477,6.602,6.699,6.778,6.845,6.903,6.954,7,7.2],"tickCount":200,"title":null}},
"y":{"field":"y","type":"quantitative","scale":{"domain":[1,7.2],"nice":false,"zero":false},"axis":{"values":[1,1.301,1.477,1.602,1.699,1.778,1.845,1.903,1.954,2,2.301,2.477,2.602,2.699,2.778,2.845,2.903,2.954,3,3.301,3.477,3.602,3.699,3.778,3.845,3.903,3.954,4,4.301,4.477,4.602,4.699,4.778,4.845,4.903,4.954,5,5.301,5.477,5.602,5.699,5.778,5.845,5.903,5.954,6,6.301,6.477,6.602,6.699,6.778,6.845,6.903,6.954,7,7.2],"tickCount":200,"title":null}}}},
{"data":{"name":"gates"},"transform":[{"filter":"datum.p==6"}],"mark":"rect","encoding":{"x":{"field":"x","type":"quantitative"},"x2":{"field":"x2"},"y":{"field":"y","type":"quantitative"},"y2":{"field":"y2"}}},
{"data":{"name":"gates"},"transform":[{"filter":"datum.p==6"}],"mark":"text","encoding":{"x":{"field":"xc","type":"quantitative"},"y":{"field":"y2","type":"quantitative"},"text":{"field":"pct"}}}]},

{"title":{"text":["SpT-OTI + SnT-TRP2","+ CN OMVs"],"dx":1,"offset":10},"width":196,"height":196,"layer":[
{"data":{"name":"cells"},"transform":[{"filter":"datum.p==7"}],"mark":"circle","encoding":{
"x":{"field":"x","type":"quantitative","scale":{"domain":[1,7.2],"nice":false,"zero":false},"axis":{"values":[1,1.301,1.477,1.602,1.699,1.778,1.845,1.903,1.954,2,2.301,2.477,2.602,2.699,2.778,2.845,2.903,2.954,3,3.301,3.477,3.602,3.699,3.778,3.845,3.903,3.954,4,4.301,4.477,4.602,4.699,4.778,4.845,4.903,4.954,5,5.301,5.477,5.602,5.699,5.778,5.845,5.903,5.954,6,6.301,6.477,6.602,6.699,6.778,6.845,6.903,6.954,7,7.2],"tickCount":200,"title":null}},
"y":{"field":"y","type":"quantitative","scale":{"domain":[1,7.2],"nice":false,"zero":false},"axis":{"values":[1,1.301,1.477,1.602,1.699,1.778,1.845,1.903,1.954,2,2.301,2.477,2.602,2.699,2.778,2.845,2.903,2.954,3,3.301,3.477,3.602,3.699,3.778,3.845,3.903,3.954,4,4.301,4.477,4.602,4.699,4.778,4.845,4.903,4.954,5,5.301,5.477,5.602,5.699,5.778,5.845,5.903,5.954,6,6.301,6.477,6.602,6.699,6.778,6.845,6.903,6.954,7,7.2],"tickCount":200,"title":null}}}},
{"data":{"name":"gates"},"transform":[{"filter":"datum.p==7"}],"mark":"rect","encoding":{"x":{"field":"x","type":"quantitative"},"x2":{"field":"x2"},"y":{"field":"y","type":"quantitative"},"y2":{"field":"y2"}}},
{"data":{"name":"gates"},"transform":[{"filter":"datum.p==7"}],"mark":"text","encoding":{"x":{"field":"xc","type":"quantitative"},"y":{"field":"y2","type":"quantitative"},"text":{"field":"pct"}}}]},

{"title":{"text":"CC-SpT-OTI OMVs","dx":0,"offset":16},"width":196,"height":196,"layer":[
{"data":{"name":"cells"},"transform":[{"filter":"datum.p==8"}],"mark":"circle","encoding":{
"x":{"field":"x","type":"quantitative","scale":{"domain":[1,7.2],"nice":false,"zero":false},"axis":{"values":[1,1.301,1.477,1.602,1.699,1.778,1.845,1.903,1.954,2,2.301,2.477,2.602,2.699,2.778,2.845,2.903,2.954,3,3.301,3.477,3.602,3.699,3.778,3.845,3.903,3.954,4,4.301,4.477,4.602,4.699,4.778,4.845,4.903,4.954,5,5.301,5.477,5.602,5.699,5.778,5.845,5.903,5.954,6,6.301,6.477,6.602,6.699,6.778,6.845,6.903,6.954,7,7.2],"tickCount":200,"title":null}},
"y":{"field":"y","type":"quantitative","scale":{"domain":[1,7.2],"nice":false,"zero":false},"axis":{"values":[1,1.301,1.477,1.602,1.699,1.778,1.845,1.903,1.954,2,2.301,2.477,2.602,2.699,2.778,2.845,2.903,2.954,3,3.301,3.477,3.602,3.699,3.778,3.845,3.903,3.954,4,4.301,4.477,4.602,4.699,4.778,4.845,4.903,4.954,5,5.301,5.477,5.602,5.699,5.778,5.845,5.903,5.954,6,6.301,6.477,6.602,6.699,6.778,6.845,6.903,6.954,7,7.2],"tickCount":200,"title":null}}}},
{"data":{"name":"gates"},"transform":[{"filter":"datum.p==8"}],"mark":"rect","encoding":{"x":{"field":"x","type":"quantitative"},"x2":{"field":"x2"},"y":{"field":"y","type":"quantitative"},"y2":{"field":"y2"}}},
{"data":{"name":"gates"},"transform":[{"filter":"datum.p==8"}],"mark":"text","encoding":{"x":{"field":"xc","type":"quantitative"},"y":{"field":"y2","type":"quantitative"},"text":{"field":"pct"}}}]},

{"title":{"text":"CC-SnT-TRP2 OMVs","dx":-13,"offset":16},"width":196,"height":196,"layer":[
{"data":{"name":"cells"},"transform":[{"filter":"datum.p==9"}],"mark":"circle","encoding":{
"x":{"field":"x","type":"quantitative","scale":{"domain":[1,7.2],"nice":false,"zero":false},"axis":{"values":[1,1.301,1.477,1.602,1.699,1.778,1.845,1.903,1.954,2,2.301,2.477,2.602,2.699,2.778,2.845,2.903,2.954,3,3.301,3.477,3.602,3.699,3.778,3.845,3.903,3.954,4,4.301,4.477,4.602,4.699,4.778,4.845,4.903,4.954,5,5.301,5.477,5.602,5.699,5.778,5.845,5.903,5.954,6,6.301,6.477,6.602,6.699,6.778,6.845,6.903,6.954,7,7.2],"tickCount":200,"title":null}},
"y":{"field":"y","type":"quantitative","scale":{"domain":[1,7.2],"nice":false,"zero":false},"axis":{"values":[1,1.301,1.477,1.602,1.699,1.778,1.845,1.903,1.954,2,2.301,2.477,2.602,2.699,2.778,2.845,2.903,2.954,3,3.301,3.477,3.602,3.699,3.778,3.845,3.903,3.954,4,4.301,4.477,4.602,4.699,4.778,4.845,4.903,4.954,5,5.301,5.477,5.602,5.699,5.778,5.845,5.903,5.954,6,6.301,6.477,6.602,6.699,6.778,6.845,6.903,6.954,7,7.2],"tickCount":200,"title":null}}}},
{"data":{"name":"gates"},"transform":[{"filter":"datum.p==9"}],"mark":"rect","encoding":{"x":{"field":"x","type":"quantitative"},"x2":{"field":"x2"},"y":{"field":"y","type":"quantitative"},"y2":{"field":"y2"}}},
{"data":{"name":"gates"},"transform":[{"filter":"datum.p==9"}],"mark":"text","encoding":{"x":{"field":"xc","type":"quantitative"},"y":{"field":"y2","type":"quantitative"},"text":{"field":"pct"}}}]},

{"title":{"text":["CC-SpT-OTI/SnT-TRP2","OMVs"],"dx":0,"offset":10},"width":196,"height":196,"layer":[
{"data":{"name":"cells"},"transform":[{"filter":"datum.p==10"}],"mark":"circle","encoding":{
"x":{"field":"x","type":"quantitative","scale":{"domain":[1,7.2],"nice":false,"zero":false},"axis":{"values":[1,1.301,1.477,1.602,1.699,1.778,1.845,1.903,1.954,2,2.301,2.477,2.602,2.699,2.778,2.845,2.903,2.954,3,3.301,3.477,3.602,3.699,3.778,3.845,3.903,3.954,4,4.301,4.477,4.602,4.699,4.778,4.845,4.903,4.954,5,5.301,5.477,5.602,5.699,5.778,5.845,5.903,5.954,6,6.301,6.477,6.602,6.699,6.778,6.845,6.903,6.954,7,7.2],"tickCount":200,"title":null}},
"y":{"field":"y","type":"quantitative","scale":{"domain":[1,7.2],"nice":false,"zero":false},"axis":{"values":[1,1.301,1.477,1.602,1.699,1.778,1.845,1.903,1.954,2,2.301,2.477,2.602,2.699,2.778,2.845,2.903,2.954,3,3.301,3.477,3.602,3.699,3.778,3.845,3.903,3.954,4,4.301,4.477,4.602,4.699,4.778,4.845,4.903,4.954,5,5.301,5.477,5.602,5.699,5.778,5.845,5.903,5.954,6,6.301,6.477,6.602,6.699,6.778,6.845,6.903,6.954,7,7.2],"tickCount":200,"title":null}}}},
{"data":{"name":"gates"},"transform":[{"filter":"datum.p==10"}],"mark":"rect","encoding":{"x":{"field":"x","type":"quantitative"},"x2":{"field":"x2"},"y":{"field":"y","type":"quantitative"},"y2":{"field":"y2"}}},
{"data":{"name":"gates"},"transform":[{"filter":"datum.p==10"}],"mark":"text","encoding":{"x":{"field":"xc","type":"quantitative"},"y":{"field":"y2","type":"quantitative"},"text":{"field":"pct"}}}]}
],
"config":{
"view":{"stroke":"#000","strokeWidth":1.5},
"axis":{"domain":false,"grid":false,"ticks":true,"tickSize":6,"tickColor":"#000","tickWidth":1.2,"labels":false,"labelFont":"Liberation Sans","labelFontSize":15,"labelFontWeight":"bold","labelColor":"#000","titleFont":"Liberation Sans","titleFontSize":15,"titleFontWeight":"bold","titleColor":"#000"},
"title":{"font":"Liberation Sans","fontSize":15,"fontWeight":"bold","color":"#000","frame":"group","baseline":"bottom","lineHeight":18,"anchor":"middle"},
"circle":{"size":18,"opacity":0.42,"color":"#222"},
"rect":{"fillOpacity":0,"stroke":"#e8193c","strokeWidth":2.5,"strokeDash":[8,5]},
"text":{"dy":-6,"baseline":"alphabetic","color":"#e8193c","fontSize":15,"fontWeight":"bold","font":"Liberation Sans"}
}
}
